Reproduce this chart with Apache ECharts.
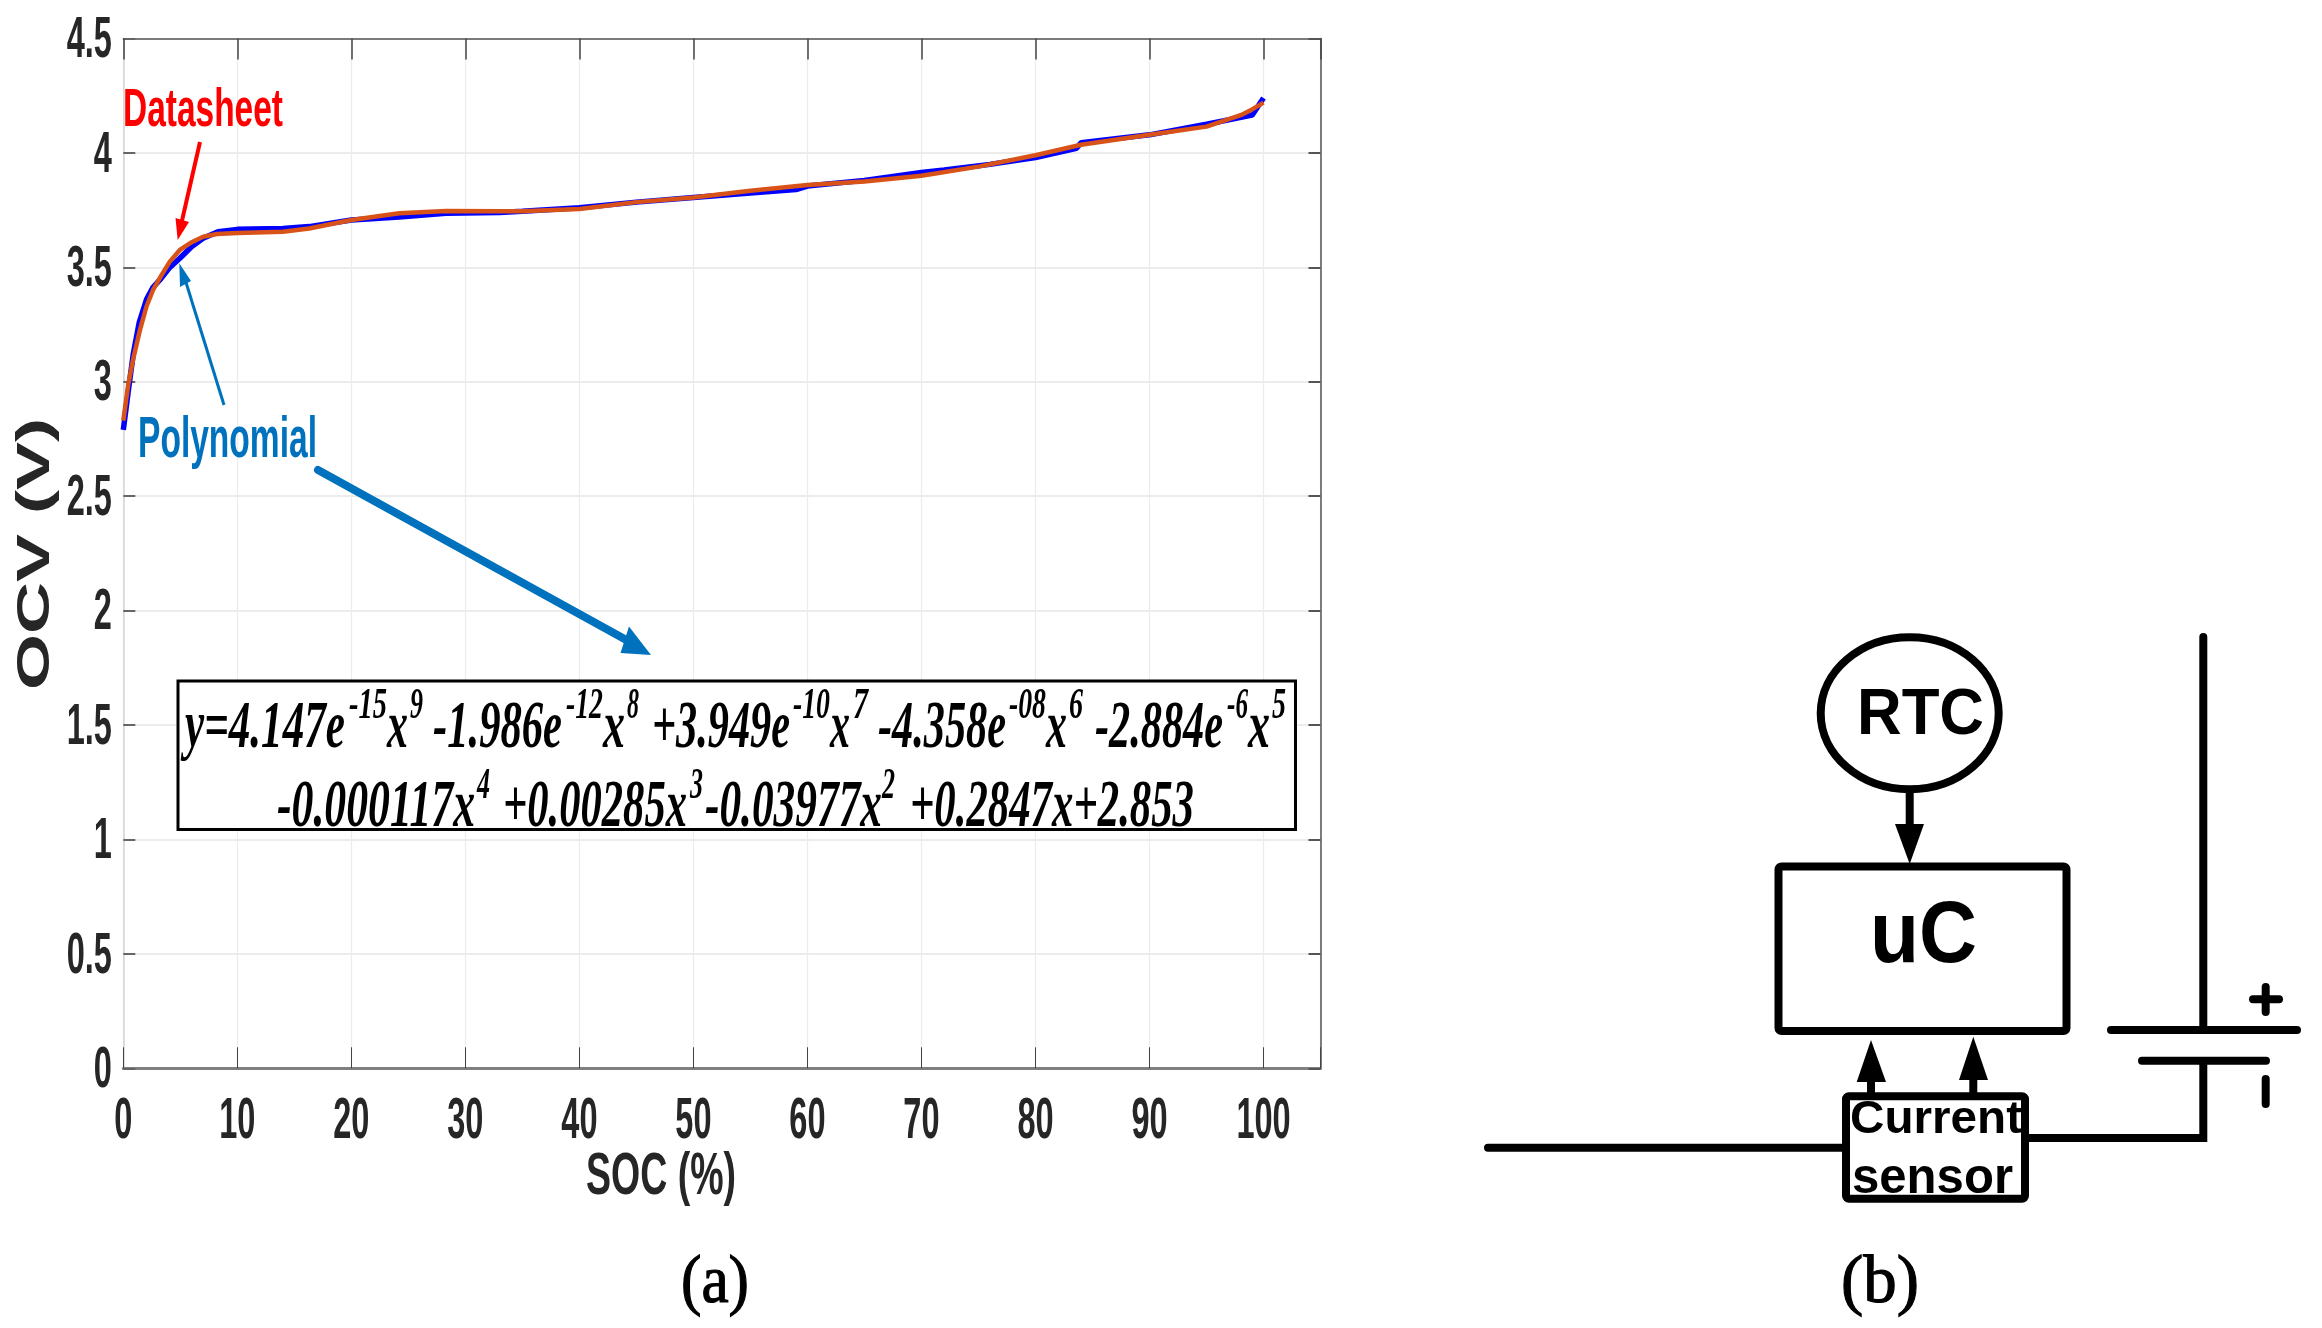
<!DOCTYPE html>
<html>
<head>
<meta charset="utf-8">
<title>OCV vs SOC</title>
<style>
  html, body { margin: 0; padding: 0; background: #fff; }
  #main { width: 2322px; height: 1328px; }
</style>
<script src="https://cdn.jsdelivr.net/npm/echarts@6/dist/echarts.min.js"></script>
</head>
<body>
<div id="main"></div>
<script>
// values
const socPolynomial = [0, 0.44, 0.87, 1.4, 2.04, 2.57, 3.2, 4.08, 4.96, 5.98, 7, 8.3, 10, 14, 16.3, 20, 24.2, 28.3, 33, 35, 40, 45, 50, 55, 59, 60, 65, 70, 72, 76, 80, 83.6, 84, 90, 95, 99, 100];
const ocvPolynomial = [2.79, 2.96, 3.12, 3.26, 3.36, 3.41, 3.445, 3.5, 3.54, 3.59, 3.627, 3.656, 3.666, 3.67, 3.678, 3.707, 3.72, 3.736, 3.74, 3.745, 3.76, 3.785, 3.805, 3.825, 3.84, 3.855, 3.88, 3.915, 3.925, 3.95, 3.98, 4.02, 4.045, 4.079, 4.125, 4.165, 4.24];
const socDatasheet = [0, 0.44, 0.87, 1.46, 2.04, 2.6, 3.35, 4.08, 4.96, 6, 7, 8.2, 10, 14, 16.3, 20, 24.2, 28.3, 33, 35, 40, 45, 50, 55, 60, 65, 70, 75, 80, 84, 90, 95, 98, 99, 100];
const ocvDatasheet = [2.83, 2.99, 3.1, 3.226, 3.33, 3.4, 3.466, 3.525, 3.576, 3.61, 3.634, 3.646, 3.65, 3.656, 3.67, 3.707, 3.736, 3.746, 3.745, 3.745, 3.755, 3.785, 3.805, 3.835, 3.86, 3.875, 3.9, 3.94, 3.99, 4.036, 4.079, 4.115, 4.165, 4.19, 4.22];
const xTicks = [0, 10, 20, 30, 40, 50, 60, 70, 80, 90, 100];
const yTicks = [0, 0.5, 1, 1.5, 2, 2.5, 3, 3.5, 4, 4.5];

const SANS = '"Liberation Sans", Arial, sans-serif';
const SERIF = '"Liberation Serif", "Times New Roman", serif';
const measure = document.createElement('canvas').getContext('2d');

// the source image squeezes its text sideways, so every label is fitted to its width
function squeeze(str, width, font) {
  measure.font = font;
  return width / measure.measureText(str).width;
}

function fitText(str, x0, x1, base, size, family, color, weight, style) {
  const font = (style || 'normal') + ' ' + (weight || 'bold') + ' ' + size + 'px ' + family;
  return {
    type: 'text', x: x0, y: base - 0.29 * size, scaleX: squeeze(str, x1 - x0, font), z: 20,
    style: { text: str, font: font, fill: color || '#000', align: 'left', verticalAlign: 'middle' }
  };
}

function seg(x1, y1, x2, y2, color, w, cap) {
  return {
    type: 'line', z: 15, shape: { x1: x1, y1: y1, x2: x2, y2: y2 },
    style: { stroke: color || '#000', lineWidth: w || 8, lineCap: cap || 'butt' }
  };
}

function head(points, color) {
  return { type: 'polygon', z: 15, shape: { points: points }, style: { fill: color || '#000' } };
}

function box(x, y, w, h, lw, r, fill) {
  return {
    type: 'rect', z: 12, shape: { x: x, y: y, width: w, height: h, r: r || 0 },
    style: { fill: fill || 'rgba(0,0,0,0)', stroke: '#000', lineWidth: lw }
  };
}

function caption(str, x0, x1) {
  const el = fitText(str, x0, x1, 1304, 68, SERIF, '#000', 'normal');
  el.style.stroke = '#000';
  el.style.lineWidth = 1.2;
  return el;
}

const BLUE = '#0072BD';
const RED = '#FF0000';
const main = 68, sup = 44;
const formula = [
  ['y=4.147e', 185, 345, 749, main], ['-15', 349, 387, 719, sup], ['x', 387, 408, 749, main], ['9', 410, 423, 719, sup],
  ['-1.986e', 433, 562, 749, main], ['-12', 566, 603, 719, sup], ['x', 603, 625, 749, main], ['8', 627, 639, 719, sup],
  ['+3.949e', 652, 790, 749, main], ['-10', 793, 830, 719, sup], ['x', 830, 850, 749, main], ['7', 853, 868, 719, sup],
  ['-4.358e', 878, 1006, 749, main], ['-08', 1009, 1046, 719, sup], ['x', 1046, 1067, 749, main], ['6', 1069, 1083, 719, sup],
  ['-2.884e', 1095, 1223, 749, main], ['-6', 1227, 1248, 719, sup], ['x', 1248, 1270, 749, main], ['5', 1272, 1286, 719, sup],
  ['-0.000117x', 277, 475, 828, main], ['4', 477, 490, 799, sup],
  ['+0.00285x', 503, 687, 828, main], ['3', 690, 703, 799, sup],
  ['-0.03977x', 705, 882, 828, main], ['2', 882, 895, 799, sup],
  ['+0.2847x+2.853', 910, 1194, 828, main]
];

const ocvFont = 'bold 46px ' + SANS;
const graphics = [
  // axis names
  fitText('SOC (%)', 586, 736, 1195, 60, SANS, '#262626'),
  {
    type: 'text', x: 36, y: 690, rotation: Math.PI / 2, scaleX: squeeze('OCV (V)', 272, ocvFont), z: 20,
    style: { text: 'OCV (V)', font: ocvFont, fill: '#262626', align: 'left', verticalAlign: 'middle' }
  },
  // annotations
  fitText('Datasheet', 123, 283, 127, 53, SANS, RED),
  seg(200, 142, 181, 225, RED, 4),
  head([[177.7, 240], [175.5, 218], [189, 222]], RED),
  fitText('Polynomial', 138, 317, 458, 57, SANS, BLUE),
  seg(224, 405, 184, 276, BLUE, 3),
  head([[179.3, 263.3], [180, 287], [191, 281]], BLUE),
  seg(318, 470, 630, 642, BLUE, 8, 'round'),
  head([[651, 655], [620.5, 653], [629, 626.5]], BLUE),
  // formula box
  box(178, 681, 1117.5, 148.5, 3, 0, '#fff'),
  // panel b
  { type: 'ellipse', z: 12, shape: { cx: 1909.7, cy: 713.3, rx: 89, ry: 76 }, style: { fill: '#fff', stroke: '#000', lineWidth: 8 } },
  fitText('RTC', 1857, 1984, 735, 65, SANS),
  seg(1909.7, 793, 1909.7, 826),
  head([[1895, 824], [1924, 824], [1909.7, 864]]),
  box(1778.5, 866.5, 288, 164.5, 8, 3),
  fitText('uC', 1870, 1977, 963, 88, SANS),
  seg(1871, 1080, 1871, 1094),
  head([[1871, 1040], [1856.7, 1082], [1886, 1082]]),
  seg(1973.3, 1078, 1973.3, 1094),
  head([[1973.3, 1036.7], [1959, 1080], [1988, 1080]]),
  box(1846, 1096.3, 179, 102.4, 8, 3),
  fitText('Current', 1850, 2022, 1134, 46, SANS),
  fitText('sensor', 1852, 2013, 1194, 50, SANS),
  seg(1488, 1147.7, 1842, 1147.7, '#000', 8, 'round'),
  seg(2029, 1138, 2207, 1138),
  seg(2203.3, 1142, 2203.3, 1060),
  seg(2203.3, 637, 2203.3, 1030, '#000', 8, 'round'),
  seg(2111, 1030, 2297, 1030, '#000', 8, 'round'),
  seg(2142, 1060.7, 2266, 1060.7, '#000', 8, 'round'),
  seg(2253, 999.3, 2279, 999.3, '#000', 8, 'round'),
  seg(2265.7, 987, 2265.7, 1012, '#000', 8, 'round'),
  seg(2265.7, 1079, 2265.7, 1104, '#000', 8, 'round'),
  // captions
  caption('(a)', 681, 749),
  caption('(b)', 1841, 1919)
].concat(formula.map(function (f) {
  return fitText(f[0], f[1], f[2], f[3], f[4], SERIF, '#000', 'bold', 'italic');
}));

const tickFont = 'bold 57px ' + SANS;

function tickLabel(params, api) {
  const horizontal = params.seriesIndex === 2;
  const v = api.value(horizontal ? 0 : 1);
  const p = api.coord(horizontal ? [v, 0] : [0, v]);
  return {
    type: 'text',
    x: horizontal ? p[0] : p[0] - 11.5,
    y: horizontal ? p[1] + 54 : p[1] + 3,
    scaleX: 0.57,
    style: {
      text: String(v), font: tickFont, fill: '#262626',
      align: horizontal ? 'center' : 'right', verticalAlign: 'middle'
    }
  };
}

const axisCommon = { type: 'value', splitNumber: 10, axisLabel: { show: false }, silent: true };

const option = {
  backgroundColor: '#fff',
  animation: false,
  grid: { left: 123.3, top: 38.5, width: 1197.2, height: 1029.8 },
  xAxis: [
    Object.assign({}, axisCommon, {
      min: 0, max: 105, interval: 10, position: 'bottom',
      axisLine: { show: true, onZero: false, lineStyle: { color: '#808080', width: 3 } },
      axisTick: { show: true, inside: true, length: 21, lineStyle: { color: '#444', width: 1 } },
      splitLine: { show: true, lineStyle: { color: '#ececec', width: 1.2 } }
    }),
    Object.assign({}, axisCommon, {
      min: 0, max: 105, interval: 10, position: 'top',
      axisLine: { show: true, onZero: false, lineStyle: { color: '#555', width: 1.5 } },
      axisTick: { show: true, inside: true, length: 21, lineStyle: { color: '#444', width: 1.5 } },
      splitLine: { show: false }
    })
  ],
  yAxis: [
    Object.assign({}, axisCommon, {
      min: 0, max: 4.5, interval: 0.5, position: 'left',
      axisLine: { show: true, onZero: false, lineStyle: { color: '#d4d4d4', width: 1.5 } },
      axisTick: { show: true, inside: true, length: 12, lineStyle: { color: '#666', width: 2 } },
      splitLine: { show: true, lineStyle: { color: '#ececec', width: 2 } }
    }),
    Object.assign({}, axisCommon, {
      min: 0, max: 4.5, interval: 0.5, position: 'right',
      axisLine: { show: true, onZero: false, lineStyle: { color: '#555', width: 1.5 } },
      axisTick: { show: true, inside: true, length: 12, lineStyle: { color: '#555', width: 2 } },
      splitLine: { show: false }
    })
  ],
  series: [
    {
      name: 'Polynomial', type: 'line', showSymbol: false, z: 5,
      data: socPolynomial.map(function (x, i) { return [x, ocvPolynomial[i]]; }),
      lineStyle: { color: '#0000FF', width: 5.5 }
    },
    {
      name: 'Datasheet', type: 'line', showSymbol: false, z: 6,
      data: socDatasheet.map(function (x, i) { return [x, ocvDatasheet[i]]; }),
      lineStyle: { color: '#D95319', width: 4.5 }
    },
    {
      name: 'x ticks', type: 'custom', renderItem: tickLabel, silent: true, z: 8,
      data: xTicks.map(function (x) { return [x, 0]; })
    },
    {
      name: 'y ticks', type: 'custom', renderItem: tickLabel, silent: true, z: 8,
      data: yTicks.map(function (y) { return [0, y]; })
    }
  ],
  graphic: { elements: graphics }
};

const chart = echarts.init(document.getElementById('main'));
chart.setOption(option);
</script>
</body>
</html>
